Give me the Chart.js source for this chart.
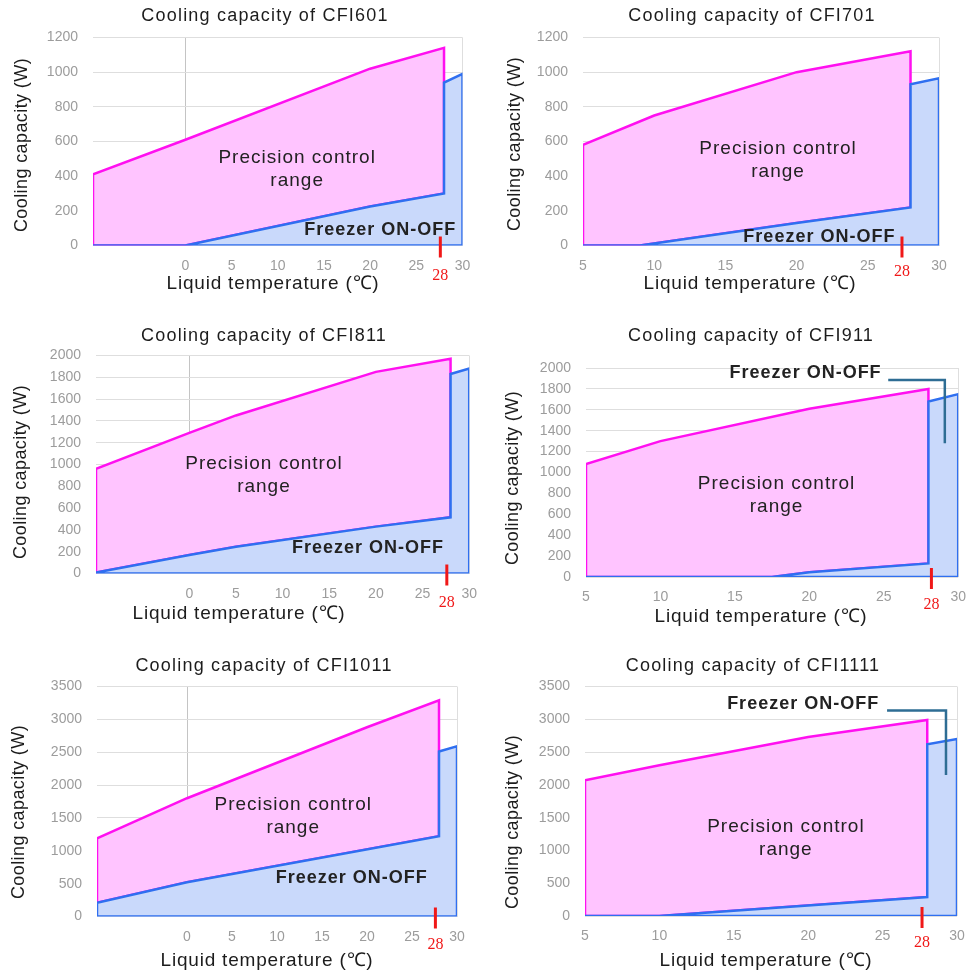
<!DOCTYPE html>
<html>
<head>
<meta charset="utf-8">
<script src="https://cdn.jsdelivr.net/npm/chart.js@4.4.1/dist/chart.umd.min.js"></script>
<style>
  html, body { margin: 0; padding: 0; background: #fff; }
  #wrap { position: relative; width: 978px; height: 976px; overflow: hidden; }
  #wrap canvas { position: absolute; }
</style>
</head>
<body>
<div id="wrap"></div>
<script>
// ---- data (temperature in degC, capacity in W) ----
const models = ['CFI601', 'CFI701', 'CFI811', 'CFI911', 'CFI1011', 'CFI1111'];

// upper edge of the precision control range
const cfi601UpT = [-10, 0, 20, 28];        const cfi601UpW = [410, 610, 1020, 1140];
const cfi701UpT = [5, 10, 20, 28];         const cfi701UpW = [580, 750, 1000, 1120];
const cfi811UpT = [-10, 0, 5, 20, 28];     const cfi811UpW = [960, 1290, 1450, 1850, 1970];
const cfi911UpT = [5, 10, 20, 28];         const cfi911UpW = [1080, 1300, 1610, 1800];
const cfi1011UpT = [-10, 0, 20, 28];       const cfi1011UpW = [1190, 1800, 2880, 3290];
const cfi1111UpT = [5, 10, 20, 28];        const cfi1111UpW = [2070, 2300, 2730, 2990];

// lower edge (freezer ON-OFF line)
const cfi601LoT = [-10, 0, 20, 28];        const cfi601LoW = [0, 0, 225, 300];
const cfi701LoT = [5, 9, 20, 28];          const cfi701LoW = [0, 0, 130, 220];
const cfi811LoT = [-10, 0, 5, 20, 28];     const cfi811LoW = [10, 170, 245, 430, 515];
const cfi911LoT = [5, 17.5, 20, 28];       const cfi911LoW = [0, 0, 45, 130];
const cfi1011LoT = [-10, 0, 28];           const cfi1011LoW = [210, 520, 1220];
const cfi1111LoT = [5, 10, 28];            const cfi1111LoW = [0, 0, 290];

// freezer ON-OFF capacity above 28 degC
const cfi601MaxT = [28, 30];   const cfi601MaxW = [940, 990];
const cfi701MaxT = [28, 30];   const cfi701MaxW = [930, 965];
const cfi811MaxT = [28, 30];   const cfi811MaxW = [1830, 1880];
const cfi911MaxT = [28, 30];   const cfi911MaxW = [1680, 1750];
const cfi1011MaxT = [28, 30];  const cfi1011MaxW = [2510, 2590];
const cfi1111MaxT = [28, 30];  const cfi1111MaxW = [2620, 2700];

// axis ranges
const xMins = [-10, 5, -10, 5, -10, 5];
const xMax = 30;
const xStep = 5;
const yMaxs = [1200, 1200, 2000, 2000, 3500, 3500];
const ySteps = [200, 200, 200, 200, 500, 500];

const series = [
  [cfi601UpT, cfi601UpW, cfi601LoT, cfi601LoW, cfi601MaxT, cfi601MaxW],
  [cfi701UpT, cfi701UpW, cfi701LoT, cfi701LoW, cfi701MaxT, cfi701MaxW],
  [cfi811UpT, cfi811UpW, cfi811LoT, cfi811LoW, cfi811MaxT, cfi811MaxW],
  [cfi911UpT, cfi911UpW, cfi911LoT, cfi911LoW, cfi911MaxT, cfi911MaxW],
  [cfi1011UpT, cfi1011UpW, cfi1011LoT, cfi1011LoW, cfi1011MaxT, cfi1011MaxW],
  [cfi1111UpT, cfi1111UpW, cfi1111LoT, cfi1111LoW, cfi1111MaxT, cfi1111MaxW]
];

// ---- page layout (page pixels) and annotation spots (data coords) ----
const layouts = [
  { box: [0, 0, 489, 300], area: [93, 37.5, 462.5, 245.5], title: [265, 16], xTitle: [273, 284], yTitle: [22, 145],
    prec: [12.1, 440], freezer: [21.1, 90], mark: 27.6, markDy: 30, leader: null },
  { box: [489, 0, 489, 300], area: [583, 37.5, 939, 245.5], title: [752, 16], xTitle: [750, 284], yTitle: [515, 144],
    prec: [18.7, 490], freezer: [21.6, 51], mark: 27.4, markDy: 26, leader: null },
  { box: [0, 300, 489, 330], area: [96, 355.5, 470, 573.5], title: [264, 336], xTitle: [239, 614], yTitle: [21, 472],
    prec: [8, 900], freezer: [19.15, 235], mark: 27.6, markDy: 29, leader: null },
  { box: [489, 300, 489, 330], area: [586, 368, 969, 577], title: [751, 336], xTitle: [761, 617], yTitle: [513, 478],
    prec: [17.8, 785], freezer: [19.75, 1950], mark: 28.2, markDy: 28,
    leader: [[25.3, 1885], [29.1, 1885], [29.1, 1280]] },
  { box: [0, 630, 489, 346], area: [97, 686.5, 457, 916.5], title: [264, 666], xTitle: [267, 961], yTitle: [19, 812],
    prec: [11.8, 1520], freezer: [18.3, 585], mark: 27.6, markDy: 28, leader: null },
  { box: [489, 630, 489, 346], area: [585, 686.5, 957, 916], title: [753, 666], xTitle: [766, 961], yTitle: [513, 822],
    prec: [18.5, 1180], freezer: [19.66, 3240], mark: 27.65, markDy: 27,
    leader: [[25.3, 3135], [29.26, 3135], [29.26, 2150]] }
];

const PINK_LINE = '#ff10f0', PINK_FILL = '#ffc4ff';
const BLUE_LINE = '#2f6ff0', BLUE_FILL = '#c9d9fb';
const SANS = '"Liberation Sans", Arial, sans-serif';

function rangeShape(upT, upW, loT, loW) {
  const pts = upT.map((t, i) => ({ x: t, y: upW[i] }));
  for (let i = loT.length - 1; i >= 0; i--) pts.push({ x: loT[i], y: loW[i] });
  pts.push(pts[0]);
  return pts;
}

function freezerShape(loT, loW, maxT, maxW) {
  const pts = [{ x: loT[0], y: 0 }];
  loT.forEach((t, i) => pts.push({ x: t, y: loW[i] }));
  maxT.forEach((t, i) => pts.push({ x: t, y: maxW[i] }));
  pts.push({ x: maxT[maxT.length - 1], y: 0 });
  pts.push(pts[0]);
  return pts;
}

// titles, region labels, leader lines and the red 28 marker
const overlay = {
  id: 'overlay',
  afterDraw(chart, args, o) {
    const { ctx, scales: { x, y } } = chart;
    const L = o.L, ox = L.box[0], oy = L.box[1];
    const text = (s, px, py, font, color, spacing, rot) => {
      ctx.save();
      ctx.font = font;
      ctx.fillStyle = color;
      ctx.textAlign = 'center';
      ctx.textBaseline = 'middle';
      ctx.letterSpacing = spacing || '0px';
      ctx.translate(px, py);
      if (rot) ctx.rotate(rot);
      ctx.fillText(s, 0, 0);
      ctx.restore();
    };
    text('Cooling capacity of ' + o.model, L.title[0] - ox, L.title[1] - oy, '18px ' + SANS, '#1c1c1c', '1.2px');
    text('Liquid temperature (\u2103)', L.xTitle[0] - ox, L.xTitle[1] - oy, '19px ' + SANS, '#1c1c1c', '0.8px');
    text('Cooling capacity (W)', L.yTitle[0] - ox, L.yTitle[1] - oy, '18px ' + SANS, '#1c1c1c', '0.4px', -Math.PI / 2);

    const px = x.getPixelForValue(L.prec[0]), py = y.getPixelForValue(L.prec[1]);
    text('Precision control', px, py - 11.5, '19px ' + SANS, '#222', '1px');
    text('range', px, py + 11.5, '19px ' + SANS, '#222', '1px');
    text('Freezer ON-OFF', x.getPixelForValue(L.freezer[0]), y.getPixelForValue(L.freezer[1]),
      'bold 18px ' + SANS, '#222', '1px');

    if (L.leader) {
      ctx.save();
      ctx.strokeStyle = '#2e6d94';
      ctx.lineWidth = 2.5;
      ctx.beginPath();
      L.leader.forEach((p, i) => {
        const lx = x.getPixelForValue(p[0]), ly = y.getPixelForValue(p[1]);
        if (i === 0) ctx.moveTo(lx, ly); else ctx.lineTo(lx, ly);
      });
      ctx.stroke();
      ctx.restore();
    }

    const mx = x.getPixelForValue(L.mark), base = y.getPixelForValue(0);
    ctx.save();
    ctx.strokeStyle = '#f01818';
    ctx.lineWidth = 3;
    ctx.beginPath();
    ctx.moveTo(mx, base - 9);
    ctx.lineTo(mx, base + 12);
    ctx.stroke();
    ctx.restore();
    text('28', mx, base + L.markDy, '16px "Liberation Serif", serif', '#f01818', '0px');
  }
};

const wrap = document.getElementById('wrap');

layouts.forEach((L, k) => {
  const [bx, by, bw, bh] = L.box;
  const [aL, aT, aR, aB] = L.area;
  const [upT, upW, loT, loW, maxT, maxW] = series[k];
  const xMin = xMins[k];

  const cv = document.createElement('canvas');
  cv.width = bw; cv.height = bh;
  cv.style.left = bx + 'px'; cv.style.top = by + 'px';
  cv.style.width = bw + 'px'; cv.style.height = bh + 'px';
  wrap.appendChild(cv);

  new Chart(cv.getContext('2d'), {
    type: 'line',
    data: {
      datasets: [
        {
          label: 'Freezer ON-OFF',
          data: freezerShape(loT, loW, maxT, maxW),
          borderColor: BLUE_LINE,
          backgroundColor: BLUE_FILL,
          borderWidth: 2.5,
          fill: 'shape',
          tension: 0,
          pointRadius: 0
        },
        {
          label: 'Precision control range',
          data: rangeShape(upT, upW, loT, loW),
          borderColor: PINK_LINE,
          backgroundColor: PINK_FILL,
          borderWidth: 2.5,
          fill: 'shape',
          tension: 0,
          pointRadius: 0
        }
      ]
    },
    options: {
      responsive: false,
      animation: false,
      layout: {
        autoPadding: false,
        padding: { left: 0, top: aT - by, right: bx + bw - aR, bottom: 0 }
      },
      plugins: {
        legend: { display: false },
        tooltip: { enabled: false },
        overlay: { L: L, model: models[k] }
      },
      scales: {
        x: {
          type: 'linear',
          min: xMin,
          max: xMax,
          afterFit: s => { s.height = by + bh - aB; },
          border: { display: false },
          grid: {
            drawTicks: false,
            lineWidth: 1,
            color: c => c.tick.value === 0 ? '#c4c4c4' : (c.tick.value === xMax ? '#dedede' : 'rgba(0,0,0,0)')
          },
          ticks: {
            stepSize: xStep,
            autoSkip: false,
            maxRotation: 0,
            padding: 12,
            color: '#9c9c9c',
            font: { family: SANS, size: 14 },
            callback: v => v < 0 ? '' : String(v)
          }
        },
        y: {
          min: 0,
          max: yMaxs[k],
          afterFit: s => { s.width = aL - bx; },
          border: { display: false },
          grid: { drawTicks: false, color: '#dedede', lineWidth: 1 },
          ticks: {
            stepSize: ySteps[k],
            padding: 15,
            color: '#9c9c9c',
            font: { family: SANS, size: 14 },
            callback: v => String(v)
          }
        }
      }
    },
    plugins: [overlay]
  });
});
</script>
</body>
</html>
